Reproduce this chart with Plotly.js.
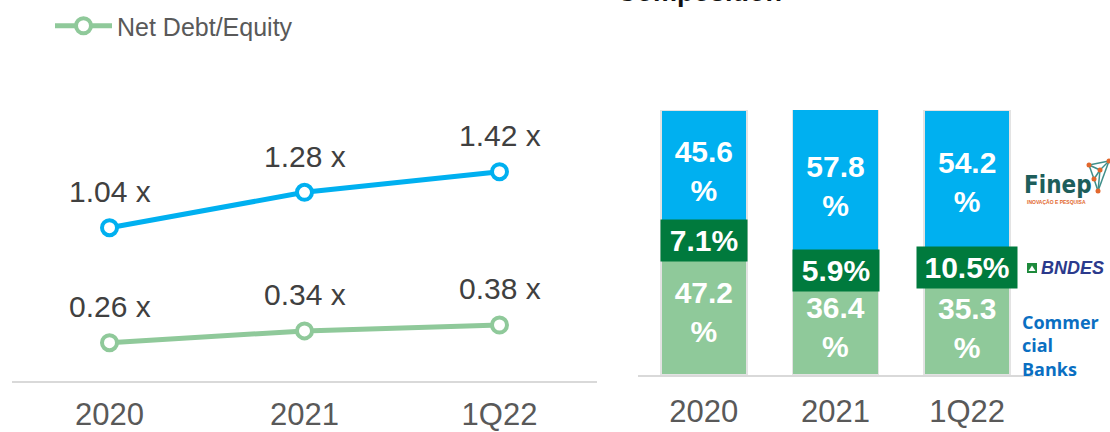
<!DOCTYPE html>
<html>
<head>
<meta charset="utf-8">
<script src="https://cdn.plot.ly/plotly-3.0.1.min.js"></script>
<style>html,body{margin:0;padding:0;background:#fff;}#chart{width:1110px;height:432px;}</style>
</head>
<body>
<div id="chart"></div>
<script>
// ---- data ----
const periods = ["2020", "2021", "1Q22"];
const grossDebtEquity = [1.04, 1.28, 1.42];
const netDebtEquity = [0.26, 0.34, 0.38];
const commercialBanks = [47.2, 36.4, 35.3];
const bndes = [7.1, 5.9, 10.5];
const finep = [45.6, 57.8, 54.2];
const legendName = "Net Debt/Equity";
const titleText = "Composition";
const bankLabel = ["Commer", "cial", "Banks"];

// ---- helpers (pixel -> paper) ----
const W = 1110, H = 432;
const px = x => x / W;
const py = y => 1 - y / H;

const BLUE = "#00B0F0", LGREEN = "#8FC99A", DGREEN = "#007A3D";
const FONT = "Liberation Sans, Arial, sans-serif";

const traces = [
  {
    x: periods, y: grossDebtEquity, xaxis: "x", yaxis: "y",
    type: "scatter", mode: "lines+markers", showlegend: false,
    line: {color: BLUE, width: 5},
    marker: {symbol: "circle", size: 15, color: "#fff", line: {color: BLUE, width: 4}},
    hoverinfo: "skip"
  },
  {
    x: periods, y: netDebtEquity, xaxis: "x", yaxis: "y",
    type: "scatter", mode: "lines+markers", name: legendName, showlegend: true,
    line: {color: LGREEN, width: 5},
    marker: {symbol: "circle", size: 15, color: "#fff", line: {color: LGREEN, width: 4}},
    hoverinfo: "skip"
  },
  {
    x: periods, y: commercialBanks, xaxis: "x2", yaxis: "y2", type: "bar", showlegend: false,
    marker: {color: LGREEN, line: {color: "#E3E3E3", width: 1.5}},
    text: commercialBanks.map(v => v.toFixed(1) + "<br>%"), texttemplate: "%{text}",
    textposition: "inside", insidetextanchor: "middle", textangle: 0, constraintext: "none",
    textfont: {color: "#fff", size: 30, family: FONT, weight: "bold"}, hoverinfo: "skip"
  },
  {
    x: periods, y: bndes, xaxis: "x2", yaxis: "y2", type: "bar", showlegend: false,
    marker: {color: DGREEN, line: {color: "#E3E3E3", width: 1.5}},
    textposition: "none", hoverinfo: "skip"
  },
  {
    x: periods, y: finep, xaxis: "x2", yaxis: "y2", type: "bar", showlegend: false,
    marker: {color: BLUE, line: {color: "#E3E3E3", width: 1.5}},
    text: finep.map(v => v.toFixed(1) + "<br>%"), texttemplate: "%{text}",
    textposition: "inside", insidetextanchor: "middle", textangle: 0, constraintext: "none",
    textfont: {color: "#fff", size: 30, family: FONT, weight: "bold"}, hoverinfo: "skip"
  }
];

const annotations = [];
// line labels (x given as category index)
[grossDebtEquity, netDebtEquity].forEach(series => {
  series.forEach((v, i) => {
    annotations.push({
      xref: "x", yref: "y", x: i, y: v, yshift: 36, showarrow: false,
      text: v.toFixed(2) + " x", font: {family: FONT, size: 30, color: "#404040"}
    });
  });
});
// BNDES labels (boxed)
bndes.forEach((v, i) => {
  const t = v.toFixed(1) + "%";
  annotations.push({
    xref: "x2", yref: "y2", x: i, y: commercialBanks[i] + v / 2,
    showarrow: false, text: t, bgcolor: DGREEN, borderpad: 0,
    width: 30 + 14 * t.length, height: 41, align: "center", valign: "middle",
    font: {family: FONT, size: 30, color: "#fff", weight: "bold"}
  });
});
// partially visible title at top
annotations.push({
  xref: "paper", yref: "paper", x: px(699), y: 1, yanchor: "bottom", xanchor: "center", yshift: -9,
  showarrow: false, text: titleText, font: {family: FONT, size: 27, color: "#111", weight: "bold"}
});
// series labels on the right (logos as text)
annotations.push({
  xref: "paper", yref: "paper", x: px(1022), y: py(185), xanchor: "left", yanchor: "middle",
  showarrow: false, text: "Finep",
  font: {family: "Liberation Sans Narrow, DejaVu Sans Condensed, Liberation Sans, Arial", size: 24, color: "#1D5E5B", weight: "bold"}
});
annotations.push({
  xref: "paper", yref: "paper", x: px(1025), y: py(202), xanchor: "left", yanchor: "middle",
  showarrow: false, text: "INOVAÇÃO E PESQUISA",
  font: {family: FONT, size: 5, color: "#E2672C", weight: "bold"}
});
annotations.push({
  xref: "paper", yref: "paper", x: px(1039), y: py(268), xanchor: "left", yanchor: "middle",
  showarrow: false, text: "BNDES",
  font: {family: FONT, size: 18, color: "#2B3A8C", weight: "bold", style: "italic"}
});
annotations.push({
  xref: "paper", yref: "paper", x: px(1020), y: py(345), xanchor: "left", yanchor: "middle", align: "left",
  showarrow: false, text: bankLabel.join("<br>"),
  font: {family: "Open Sans, Noto Sans, sans-serif", size: 18, color: "#0A6FC2", weight: "bold"}
});

const shapes = [];
// BNDES icon
shapes.push({type: "rect", xref: "paper", yref: "paper", x0: px(1027), x1: px(1037), y0: py(273), y1: py(263),
  fillcolor: "#1E8A3C", line: {width: 0}});
shapes.push({type: "path", xref: "paper", yref: "paper",
  path: `M ${px(1028.5)} ${py(271)} L ${px(1032)} ${py(265.5)} L ${px(1035.5)} ${py(271)} Z`,
  fillcolor: "#fff", line: {width: 0}});
// Finep network mark
const nodes = [[1089, 165], [1100, 170], [1109, 161], [1098, 191], [1094, 179]];
const edges = [[0, 1], [1, 2], [0, 2], [0, 4], [4, 3], [1, 3], [2, 3], [1, 4]];
edges.forEach(([a, b]) => {
  shapes.push({type: "line", xref: "paper", yref: "paper",
    x0: px(nodes[a][0]), y0: py(nodes[a][1]), x1: px(nodes[b][0]), y1: py(nodes[b][1]),
    line: {color: "#3F8F8A", width: 1.5}});
});
nodes.forEach(([x, y]) => {
  shapes.push({type: "circle", xref: "paper", yref: "paper",
    x0: px(x - 2.5), x1: px(x + 2.5), y0: py(y + 2.5), y1: py(y - 2.5),
    fillcolor: "#E2672C", line: {width: 0}});
});

const xTick = {family: FONT, size: 31, color: "#595959"};
const layout = {
  width: W, height: H,
  margin: {l: 0, r: 0, t: 0, b: 0, pad: 0},
  paper_bgcolor: "#fff", plot_bgcolor: "rgba(0,0,0,0)",
  barmode: "stack", bargap: 0.346,
  showlegend: true,
  legend: {
    x: px(50), y: py(3), xanchor: "left", yanchor: "top",
    bgcolor: "rgba(0,0,0,0)", itemwidth: 57,
    font: {family: FONT, size: 25, color: "#595959"}
  },
  xaxis: {
    domain: [px(12), px(597)], anchor: "y", type: "category", range: [-0.5, 2.5],
    showline: true, linecolor: "#D9D9D9", linewidth: 2, showgrid: false, zeroline: false,
    ticks: "outside", ticklen: 5, tickcolor: "rgba(0,0,0,0)", tickfont: xTick, fixedrange: true
  },
  yaxis: {
    domain: [py(381), py(100)], anchor: "x", range: [0, (381 - 100) / 147.4],
    visible: false, showgrid: false, zeroline: false, fixedrange: true
  },
  xaxis2: {
    domain: [px(638), px(1033)], anchor: "y2", type: "category", range: [-0.5, 2.5],
    showline: true, linecolor: "#D9D9D9", linewidth: 2, showgrid: false, zeroline: false,
    ticks: "outside", ticklen: 8, tickcolor: "rgba(0,0,0,0)", tickfont: xTick, fixedrange: true
  },
  yaxis2: {
    domain: [py(375), py(110)], anchor: "x2", range: [0, 100],
    visible: false, showgrid: false, zeroline: false, fixedrange: true
  },
  annotations: annotations,
  shapes: shapes
};

Plotly.newPlot("chart", traces, layout, {displayModeBar: false, staticPlot: true});
</script>
</body>
</html>
